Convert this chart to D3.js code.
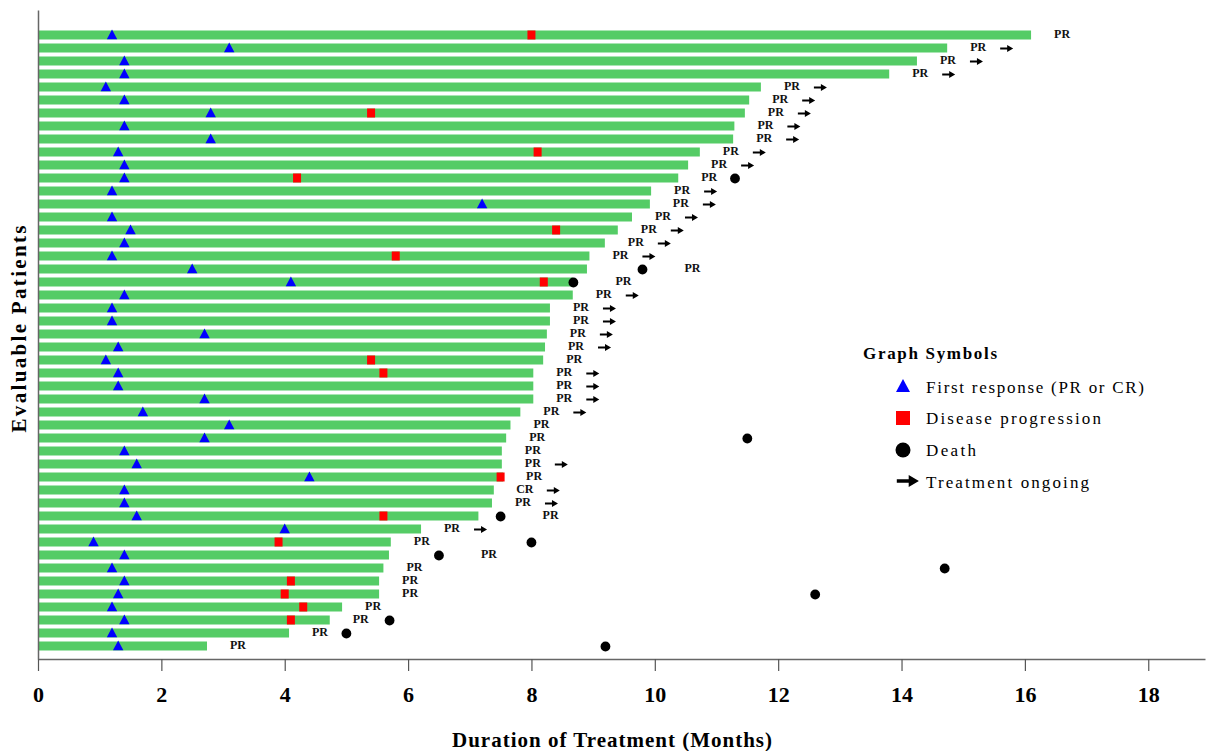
<!DOCTYPE html>
<html>
<head>
<meta charset="utf-8">
<script src="https://cdn.jsdelivr.net/npm/d3@7"></script>
<style>
  body { margin: 0; background: #fff; }
  svg { display: block; font-family: "Liberation Serif", "DejaVu Serif", serif; }
</style>
</head>
<body>
<div id="chart"></div>
<script>
// Duration of treatment (months), one entry per evaluable patient, top to bottom
const duration = [16.1, 14.74, 14.25, 13.8, 11.72, 11.53, 11.46, 11.29, 11.27, 10.73,
  10.54, 10.38, 9.94, 9.92, 9.63, 9.4, 9.19, 8.94, 8.9, 8.67,
  8.67, 8.3, 8.3, 8.25, 8.22, 8.19, 8.03, 8.03, 8.03, 7.82,
  7.66, 7.59, 7.52, 7.52, 7.54, 7.39, 7.36, 7.14, 6.21, 5.72,
  5.69, 5.6, 5.53, 5.53, 4.93, 4.73, 4.07, 2.74];

// First response (months)
const firstResponse = [1.2, 3.1, 1.4, 1.4, 1.1, 1.4, 2.8, 1.4, 2.8, 1.3,
  1.4, 1.4, 1.2, 7.2, 1.2, 1.5, 1.4, 1.2, 2.5, 4.1,
  1.4, 1.2, 1.2, 2.7, 1.3, 1.1, 1.3, 1.3, 2.7, 1.7,
  3.1, 2.7, 1.4, 1.6, 4.4, 1.4, 1.4, 1.6, 4.0, 0.9,
  1.4, 1.2, 1.4, 1.3, 1.2, 1.4, 1.2, 1.3];

// Disease progression (months), null = none
const progression = [8.0, null, null, null, null, null, 5.4, null, null, 8.1,
  null, 4.2, null, null, null, 8.4, null, 5.8, null, 8.2,
  null, null, null, null, null, 5.4, 5.6, null, null, null,
  null, null, null, null, 7.5, null, null, 5.6, null, 3.9,
  null, null, 4.1, 4.0, 4.3, 4.1, null, null];

// Death (months), null = none
const death = [null, null, null, null, null, null, null, null, null, null,
  null, 11.3, null, null, null, null, null, null, 9.8, 8.68,
  null, null, null, null, null, null, null, null, null, null,
  null, 11.5, null, null, null, null, null, 7.5, null, 8.0,
  6.5, 14.7, null, 12.6, null, 5.7, 5.0, 9.2];

// Best response
const response = ["PR", "PR", "PR", "PR", "PR", "PR", "PR", "PR", "PR", "PR",
  "PR", "PR", "PR", "PR", "PR", "PR", "PR", "PR", "PR", "PR",
  "PR", "PR", "PR", "PR", "PR", "PR", "PR", "PR", "PR", "PR",
  "PR", "PR", "PR", "PR", "PR", "CR", "PR", "PR", "PR", "PR",
  "PR", "PR", "PR", "PR", "PR", "PR", "PR", "PR"];

// Treatment ongoing (1 = yes)
const ongoing = [0, 1, 1, 1, 1, 1, 1, 1, 1, 1,
  1, 0, 1, 1, 1, 1, 1, 1, 0, 0,
  1, 1, 1, 1, 1, 0, 1, 1, 1, 1,
  0, 0, 0, 1, 0, 1, 1, 0, 1, 0,
  0, 0, 0, 0, 0, 0, 0, 0];

// Patients whose response label sits after the death marker
const labelAfterDeath = [18, 19, 37, 40];

const xTicks = [0, 2, 4, 6, 8, 10, 12, 14, 16, 18];

const legendItems = ["First response (PR or CR)", "Disease progression", "Death", "Treatment ongoing"];

const width = 1206, height = 751;
const green = "#55cc66";

const svg = d3.select("#chart").append("svg")
  .attr("width", width)
  .attr("height", height);

const x = d3.scaleLinear().domain([0, 18.92]).range([38, 1205]);
const y = d3.scalePoint().domain(d3.range(duration.length)).range([35, 646]);

const rows = duration.map((d, i) => ({
  i, dur: d, fr: firstResponse[i], pd: progression[i], death: death[i],
  resp: response[i], ongoing: ongoing[i]
}));

// Bars
svg.append("g").selectAll("rect")
  .data(rows)
  .enter().append("rect")
  .attr("x", x(0) + 1)
  .attr("y", d => y(d.i) - 4.5)
  .attr("width", d => x(d.dur) - x(0) - 1)
  .attr("height", 9)
  .attr("fill", green);

// Axes
const xAxis = svg.append("g")
  .attr("transform", "translate(0,659)")
  .call(d3.axisBottom(x).tickValues(xTicks).tickSize(12).tickSizeOuter(0).tickFormat(d3.format("d")));
xAxis.select(".domain").attr("stroke", "#666").attr("stroke-width", 1.5);
xAxis.selectAll(".tick line").attr("stroke", "#555").attr("stroke-width", 1.2);
xAxis.selectAll(".tick text")
  .attr("y", 35)
  .attr("dy", "0.35em")
  .attr("fill", "#000")
  .style("font-family", "'Liberation Serif', serif")
  .style("font-size", "22px")
  .style("font-weight", "bold");

const yLine = d3.scaleLinear().range([10, 659]);
svg.append("g")
  .attr("transform", "translate(38,0)")
  .call(d3.axisLeft(yLine).tickValues([]).tickSizeOuter(0))
  .select(".domain").attr("stroke", "#666").attr("stroke-width", 1.5);

// Progression squares
svg.append("g").selectAll("rect")
  .data(rows.filter(d => d.pd != null))
  .enter().append("rect")
  .attr("x", d => x(d.pd) - 4)
  .attr("y", d => y(d.i) - 4.5)
  .attr("width", 8)
  .attr("height", 9)
  .attr("fill", "#ff0000");

// First response triangles
svg.append("g").selectAll("path")
  .data(rows)
  .enter().append("path")
  .attr("d", d => {
    const cx = x(d.fr), cy = y(d.i);
    return `M${cx},${cy - 5.5}L${cx + 5.2},${cy + 4.3}L${cx - 5.2},${cy + 4.3}Z`;
  })
  .attr("fill", "#0000ff");

// Death circles
svg.append("g").selectAll("circle")
  .data(rows.filter(d => d.death != null))
  .enter().append("circle")
  .attr("cx", d => x(d.death))
  .attr("cy", d => y(d.i) + 0.5)
  .attr("r", 4.9)
  .attr("fill", "#000");

// Response labels
svg.append("g").selectAll("text")
  .data(rows)
  .enter().append("text")
  .attr("x", d => labelAfterDeath.includes(d.i) ? x(d.death) + 50 : x(d.dur) + 31)
  .attr("y", d => y(d.i) - 1)
  .attr("dy", "0.35em")
  .attr("text-anchor", "middle")
  .style("font-size", "12px")
  .style("font-weight", "bold")
  .attr("fill", "#111")
  .text(d => d.resp);

// Ongoing arrows
function arrowPath(cx, cy, s) {
  return `M${cx - 6 * s},${cy - 1.1 * s}L${cx + 1 * s},${cy - 1.1 * s}L${cx + 1 * s},${cy - 3.5 * s}` +
    `L${cx + 7 * s},${cy}L${cx + 1 * s},${cy + 3.5 * s}L${cx + 1 * s},${cy + 1.1 * s}L${cx - 6 * s},${cy + 1.1 * s}Z`;
}
svg.append("g").selectAll("path")
  .data(rows.filter(d => d.ongoing))
  .enter().append("path")
  .attr("d", d => arrowPath(x(d.dur) + 59, y(d.i) + 0.5, 1))
  .attr("fill", "#000");

// Axis titles
svg.append("text")
  .attr("x", 612)
  .attr("y", 747)
  .attr("text-anchor", "middle")
  .attr("textLength", 320)
  .style("font-size", "21px")
  .style("font-weight", "bold")
  .text("Duration of Treatment (Months)");

svg.append("text")
  .attr("transform", "translate(26,329) rotate(-90)")
  .attr("text-anchor", "middle")
  .attr("textLength", 207)
  .style("font-size", "21px")
  .style("font-weight", "bold")
  .text("Evaluable Patients");

// Legend
const legend = svg.append("g");
legend.append("text")
  .attr("x", 863)
  .attr("y", 359)
  .attr("textLength", 134)
  .style("font-size", "17px")
  .style("font-weight", "bold")
  .text("Graph Symbols");

const legendY = [387, 418, 450, 482];
const legendW = [218, 175, 50, 163];
legend.append("path")
  .attr("d", `M903,${legendY[0] - 8}L910,${legendY[0] + 5}L896,${legendY[0] + 5}Z`)
  .attr("fill", "#0000ff");
legend.append("rect")
  .attr("x", 896).attr("y", legendY[1] - 7)
  .attr("width", 14).attr("height", 14)
  .attr("fill", "#ff0000");
legend.append("circle")
  .attr("cx", 903).attr("cy", legendY[2])
  .attr("r", 7.5)
  .attr("fill", "#000");
legend.append("path")
  .attr("d", arrowPath(907, legendY[3] - 1, 1.7))
  .attr("fill", "#000");

legend.selectAll(".legend-label")
  .data(legendItems)
  .enter().append("text")
  .attr("class", "legend-label")
  .attr("x", 926)
  .attr("y", (d, i) => legendY[i] + 6)
  .attr("textLength", (d, i) => legendW[i])
  .style("font-size", "17px")
  .text(d => d);
</script>
</body>
</html>
